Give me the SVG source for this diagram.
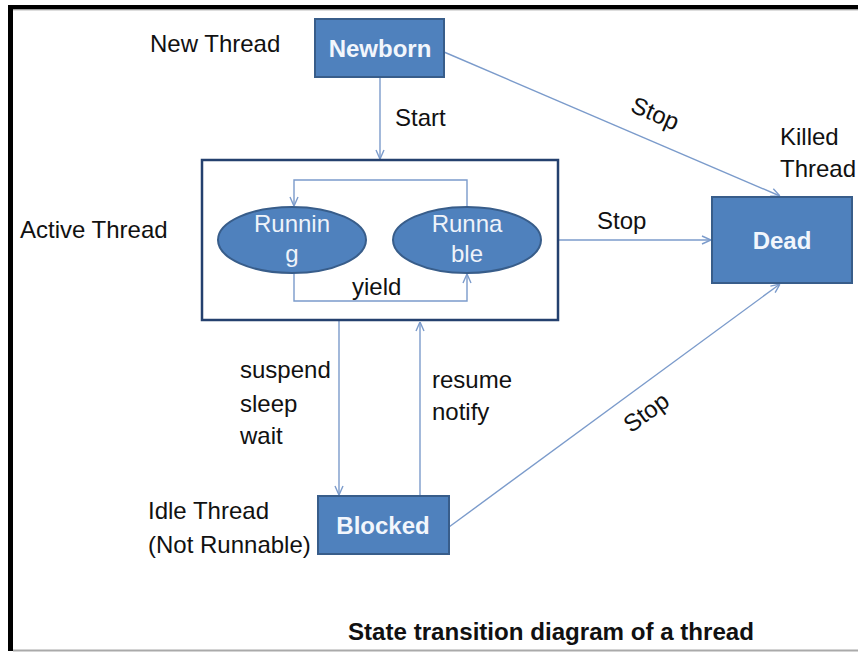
<svg xmlns="http://www.w3.org/2000/svg" width="858" height="652" viewBox="0 0 858 652">
  <style>
    .lbl { font-family: "Liberation Sans", Arial, sans-serif; font-size: 24px; fill: #111; }
    .node-rect { fill: #4f81bd; stroke: #385d8a; stroke-width: 2; }
    .node-txt { font-family: "Liberation Sans", Arial, sans-serif; font-size: 24px; font-weight: bold; fill: #f2f6fc; text-anchor: middle; }
    .ell { fill: #4f81bd; stroke: #385d8a; stroke-width: 2; }
    .ell-txt { font-family: "Liberation Sans", Arial, sans-serif; font-size: 24px; fill: #eef3fa; text-anchor: middle; }
    .conn { fill: none; stroke: #7b9bcb; stroke-width: 1.4; marker-end: url(#arrow); }
  </style>
  <defs>
    <marker id="arrow" viewBox="0 0 10 10" refX="10" refY="5" markerWidth="10" markerHeight="10" markerUnits="userSpaceOnUse" orient="auto">
      <path d="M1,1 L10,5 L1,9" fill="none" stroke="#7b9bcb" stroke-width="1.4"/>
    </marker>
  </defs>

  <!-- page background and frame -->
  <rect x="0" y="0" width="858" height="652" fill="#ffffff"/>
  <rect x="8" y="5" width="850" height="4.5" fill="#000"/>
  <line x1="13" y1="10" x2="858" y2="10" stroke="#bbb" stroke-width="1"/>
  <rect x="8" y="5" width="5" height="646" fill="#000"/>
  <line x1="13" y1="650.5" x2="858" y2="650.5" stroke="#aaa" stroke-width="2"/>

  <!-- connectors -->
  <g id="connectors">
    <line class="conn" x1="380" y1="77" x2="380" y2="159"/>
    <line class="conn" x1="444" y1="52" x2="780" y2="196"/>
    <line class="conn" x1="558" y1="240" x2="711" y2="240"/>
    <line class="conn" x1="449" y1="527" x2="780" y2="284"/>
    <line class="conn" x1="339" y1="321" x2="339" y2="495"/>
    <line class="conn" x1="420" y1="495" x2="420" y2="322"/>
    <path class="conn" d="M467,207 V180 H294 V206"/>
    <path class="conn" d="M294,273 V301 H467 V274"/>
  </g>

  <!-- connector labels -->
  <g id="connector-labels">
    <text class="lbl" x="395" y="126">Start</text>
    <text class="lbl" transform="translate(652,121) rotate(23)" text-anchor="middle">Stop</text>
    <text class="lbl" x="597" y="229">Stop</text>
    <text class="lbl" transform="translate(651,419) rotate(-36)" text-anchor="middle">Stop</text>
    <text class="lbl" x="352" y="295">yield</text>
    <text class="lbl" x="240" y="378">suspend</text>
    <text class="lbl" x="240" y="412">sleep</text>
    <text class="lbl" x="240" y="444">wait</text>
    <text class="lbl" x="432" y="388">resume</text>
    <text class="lbl" x="432" y="420">notify</text>
  </g>

  <!-- state descriptions -->
  <g id="captions">
    <text class="lbl" x="150" y="52">New Thread</text>
    <text class="lbl" x="20" y="238">Active Thread</text>
    <text class="lbl" x="780" y="145">Killed</text>
    <text class="lbl" x="780" y="177">Thread</text>
    <text class="lbl" x="148" y="519">Idle Thread</text>
    <text class="lbl" x="148" y="553">(Not Runnable)</text>
  </g>

  <g id="newborn">
    <rect class="node-rect" x="315" y="19" width="129" height="58"/>
    <text class="node-txt" x="380" y="57">Newborn</text>
  </g>

  <g id="active">
    <rect x="202" y="160" width="356" height="160" fill="none" stroke="#24406e" stroke-width="2.5"/>
  </g>

  <g id="running">
    <ellipse class="ell" cx="292" cy="240" rx="74" ry="33"/>
    <text class="ell-txt" x="292" y="232">Runnin</text>
    <text class="ell-txt" x="292" y="262">g</text>
  </g>

  <g id="runnable">
    <ellipse class="ell" cx="467" cy="240" rx="74" ry="33"/>
    <text class="ell-txt" x="467" y="232">Runna</text>
    <text class="ell-txt" x="467" y="262">ble</text>
  </g>

  <g id="dead">
    <rect class="node-rect" x="712" y="197" width="140" height="86"/>
    <text class="node-txt" x="782" y="249">Dead</text>
  </g>

  <g id="blocked">
    <rect class="node-rect" x="318" y="496" width="131" height="58"/>
    <text class="node-txt" x="383" y="534">Blocked</text>
  </g>

  <g id="title">
    <text x="348" y="640" textLength="406" lengthAdjust="spacingAndGlyphs" style="font-family: 'Liberation Sans', Arial, sans-serif; font-size: 23px; font-weight: bold; fill: #111;">State transition diagram of a thread</text>
  </g>
</svg>
